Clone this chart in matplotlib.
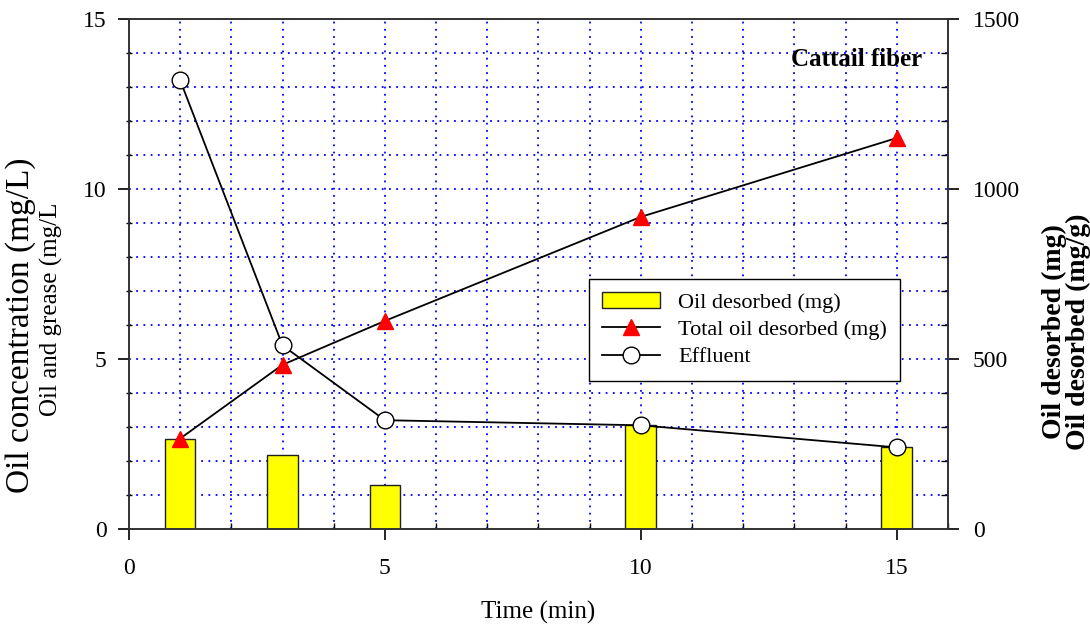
import matplotlib.pyplot as plt
from matplotlib.ticker import MultipleLocator

plt.rcParams['font.family'] = ['Liberation Serif', 'DejaVu Serif']

# data
time_min = [1, 3, 5, 10, 15]
oil_desorbed_mg = [266, 217, 129, 306, 241]
total_desorbed_mg = [266, 483, 612, 918, 1150]
effluent_mgL = [13.2, 5.4, 3.2, 3.05, 2.4]

fig = plt.figure(figsize=(10.9, 6.25), dpi=100)
ax = fig.add_axes([0.1183, 0.1536, 0.7514, 0.816])
ax2 = ax.twinx()

# right axis drawn underneath (grid, bars, total), left on top (effluent)
ax.set_zorder(2)
ax2.set_zorder(1)
ax.patch.set_visible(False)
ax2.patch.set_visible(True)
ax2.patch.set_facecolor('white')
ax2.xaxis.set_visible(True)

ax.set_xlim(0, 16)
ax.set_ylim(0, 15)
ax2.set_ylim(0, 1500)

ax.xaxis.set_major_locator(MultipleLocator(5))
ax.xaxis.set_minor_locator(MultipleLocator(1))
ax.yaxis.set_major_locator(MultipleLocator(5))
ax.yaxis.set_minor_locator(MultipleLocator(1))
ax2.yaxis.set_major_locator(MultipleLocator(500))
ax2.yaxis.set_minor_locator(MultipleLocator(100))

ax2.grid(True, which='both', color='blue', linestyle=(0, (1, 3)), linewidth=1.3)
ax2.set_axisbelow(True)

bars = ax2.bar(time_min, oil_desorbed_mg, width=0.6, color='#ffff00',
               edgecolor='#202020', linewidth=1, zorder=2,
               label='Oil desorbed (mg)')
line_total, = ax2.plot(time_min, total_desorbed_mg, color='black', lw=1.3,
                       marker='^', ms=11, mfc='red', mec='red', zorder=3,
                       label='Total oil desorbed (mg)')
line_eff, = ax.plot(time_min, effluent_mgL, color='black', lw=1.3,
                    marker='o', ms=12, mfc='white', mec='black', mew=1,
                    zorder=3, label='Effluent')

# ticks
ax.tick_params(axis='x', which='both', bottom=False, top=False, labelbottom=False)
ax2.tick_params(axis='x', which='major', direction='out', length=8, width=1.2,
                labelsize=17, pad=13, bottom=True, labelbottom=True)
ax2.tick_params(axis='x', which='minor', direction='in', length=4, width=1)
ax.tick_params(axis='y', which='major', direction='out', length=8, width=1.2,
               labelsize=17, pad=8)
ax.tick_params(axis='y', which='minor', direction='inout', length=5, width=1)
ax2.tick_params(axis='y', which='major', direction='out', length=8, width=1.2,
                labelsize=17, pad=10)
ax2.tick_params(axis='y', which='minor', direction='in', length=5, width=1)

for a in (ax, ax2):
    for s in a.spines.values():
        s.set_linewidth(1.2)
        s.set_color('#333333')

ax2.set_xlabel('Time (min)', fontsize=18, labelpad=16)

# the two stacked axis titles of the original, set side by side
fig.text(0.019, 0.48, 'Oil concentration (mg/L)', rotation=90, fontsize=24,
         ha='center', va='center')
fig.text(0.047, 0.505, 'Oil and grease (mg/L', rotation=90, fontsize=18,
         ha='center', va='center')
fig.text(0.967, 0.47, 'Oil desorbed (mg)', rotation=90, fontsize=20,
         fontweight='bold', ha='center', va='center')
fig.text(0.989, 0.47, 'Oil desorbed (mg/g)', rotation=90, fontsize=20,
         fontweight='bold', ha='center', va='center')

ax.text(0.968, 0.92, 'Cattail fiber', transform=ax.transAxes, fontsize=18,
        fontweight='bold', ha='right', va='center')

leg = ax.legend([bars, line_total, line_eff],
                ['Oil desorbed (mg)', 'Total oil desorbed (mg)', 'Effluent'],
                loc='upper left', bbox_to_anchor=(0.5617, 0.49), fontsize=16,
                frameon=True, fancybox=False, framealpha=1, edgecolor='black',
                handlelength=2.6, borderpad=0.6, labelspacing=0.3,
                borderaxespad=0)
leg.get_frame().set_linewidth(1)

fig.savefig('out.png', dpi=100)
